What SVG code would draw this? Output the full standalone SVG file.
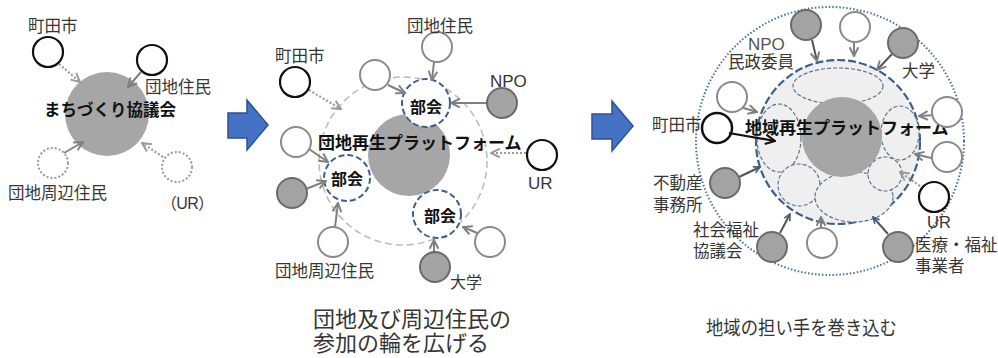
<svg xmlns="http://www.w3.org/2000/svg" width="998" height="358" viewBox="0 0 998 358">
<style>
text{font-family:"Liberation Sans","Noto Sans CJK JP",sans-serif;fill:#353535;font-size:16.5px}
.b{font-weight:bold;fill:#111}
.wc{fill:#fff;stroke:#8a8a8a;stroke-width:2}
.kc{fill:#fff;stroke:#111;stroke-width:2.2}
.gc{fill:#a3a3a3;stroke:#6a6a6a;stroke-width:2}
.dc{fill:#fff;stroke:#9a9a9a;stroke-width:2;stroke-dasharray:2 2}
.big{fill:#a6a6a6}
.bu{fill:#fff;stroke:#3d5f8a;stroke-width:2;stroke-dasharray:6 3}
.el{fill:#efefef;stroke:#5f7593;stroke-width:1.2;stroke-dasharray:4 2}
.ga{fill:none;stroke:#808080;stroke-width:2;marker-end:url(#ag)}
.da{fill:none;stroke:#9a9a9a;stroke-width:2.2;stroke-dasharray:2 2;marker-end:url(#ad)}
.ka{fill:none;stroke:#111;stroke-width:2.2;marker-end:url(#ak)}
.sa{fill:none;stroke:#555;stroke-width:2;marker-end:url(#as)}
.blk{fill:#4472c4;stroke:#2f528f;stroke-width:1.5}
</style>
<defs>
<marker id="ag" viewBox="0 0 10 10" refX="9" refY="5" markerWidth="11" markerHeight="11" markerUnits="userSpaceOnUse" orient="auto"><path d="M1,1 L9,5 L1,9" fill="none" stroke="#808080" stroke-width="1.8"/></marker>
<marker id="ad" viewBox="0 0 10 10" refX="9" refY="5" markerWidth="11" markerHeight="11" markerUnits="userSpaceOnUse" orient="auto"><path d="M1,1 L9,5 L1,9" fill="none" stroke="#9a9a9a" stroke-width="1.8"/></marker>
<marker id="ak" viewBox="0 0 10 10" refX="9" refY="5" markerWidth="12" markerHeight="12" markerUnits="userSpaceOnUse" orient="auto"><path d="M1,1 L9,5 L1,9" fill="none" stroke="#111" stroke-width="1.8"/></marker>
<marker id="as" viewBox="0 0 10 10" refX="9" refY="5" markerWidth="8" markerHeight="8" markerUnits="userSpaceOnUse" orient="auto"><path d="M1,1 L9,5 L1,9" fill="none" stroke="#3d5f8a" stroke-width="2"/></marker>
</defs>
<rect width="998" height="358" fill="#fff"/>

<!-- big background shapes -->
<g id="machizukuri"><circle class="big" cx="107" cy="114" r="42"/></g>
<g id="platform-mid">
<circle cx="403" cy="161" r="84" fill="none" stroke="#bdbdbd" stroke-width="1.6" stroke-dasharray="7 4"/>
<circle class="big" cx="409" cy="155" r="41"/>
</g>
<g id="platform-right">
<circle cx="830" cy="141" r="134" fill="none" stroke="#4a6fa0" stroke-width="2" stroke-dasharray="1.5 2"/>
<circle cx="838" cy="142" r="82" fill="#efefef" stroke="#3d5f8a" stroke-width="2.2" stroke-dasharray="8 3"/>
<ellipse class="el" cx="838" cy="86" rx="45" ry="18"/>
<ellipse class="el" cx="779" cy="138" rx="22" ry="34"/>
<ellipse class="el" cx="900" cy="133" rx="19" ry="27"/>
<circle class="el" cx="799" cy="185" r="21"/>
<ellipse class="el" cx="854" cy="197" rx="39" ry="25"/>
<circle class="el" cx="885" cy="174" r="17"/>
<circle class="big" cx="842" cy="137" r="40"/>
</g>
<g id="bukai-top"><circle class="bu" cx="426" cy="103" r="24"/></g>
<g id="bukai-left"><circle class="bu" cx="347" cy="178" r="23"/></g>
<g id="bukai-bottom"><circle class="bu" cx="437" cy="214" r="24"/></g>

<!-- connectors -->
<g id="connectors">
<line class="da" x1="59" y1="64" x2="80" y2="82"/>
<line class="ga" x1="141" y1="72" x2="128" y2="87"/>
<line class="ga" x1="64" y1="153" x2="83" y2="142"/>
<line class="da" x1="163" y1="157" x2="142" y2="143"/>

<line class="ga" x1="434" y1="62" x2="432" y2="80"/>
<line class="da" x1="309" y1="90" x2="341" y2="109"/>
<line class="ga" x1="388" y1="85" x2="405" y2="93"/>
<line class="ga" x1="487" y1="103" x2="451" y2="103"/>
<line class="ga" x1="309" y1="149" x2="328" y2="162"/>
<line class="ga" x1="306" y1="189" x2="326" y2="181"/>
<line class="ga" x1="335" y1="227" x2="338" y2="203"/>
<line class="ga" x1="434" y1="252" x2="434" y2="240"/>
<line class="ga" x1="482" y1="235" x2="463" y2="227"/>
<line class="da" x1="526" y1="153" x2="491" y2="153"/>

<line class="ga" x1="812" y1="40" x2="817" y2="61" style="stroke:#555"/>
<line class="ga" x1="854" y1="35" x2="854" y2="56"/>
<line class="ga" x1="892" y1="54" x2="877" y2="70" style="stroke:#555"/>
<line class="ga" x1="740" y1="107" x2="757" y2="112"/>
<line class="ka" x1="729" y1="133" x2="775" y2="141"/>
<line class="ga" x1="936" y1="115" x2="919" y2="116"/>
<line class="ga" x1="935" y1="159" x2="915" y2="154"/>
<line class="da" x1="920" y1="186" x2="900" y2="172"/>
<line class="sa" x1="739" y1="177" x2="760" y2="167" style="stroke:#555"/>
<line class="sa" x1="780" y1="233" x2="790" y2="214" style="stroke:#555"/>
<line class="ga" x1="821" y1="234" x2="821" y2="217"/>
<line class="sa" x1="888" y1="234" x2="873" y2="217" style="stroke:#555"/>
</g>

<!-- block arrows -->
<g id="arrow1"><path class="blk" d="M228,113 H247 V100 L268,125 L247,150 V138 H228 Z"/></g>
<g id="arrow2"><path class="blk" d="M592,114 H612 V101 L633,126 L612,151 V139 H592 Z"/></g>

<!-- left panel nodes -->
<g id="l-machida"><circle class="kc" cx="48" cy="52" r="15"/><text x="28" y="32">町田市</text></g>
<g id="l-danchi"><circle class="kc" cx="152" cy="60" r="15"/><text x="145" y="93">団地住民</text></g>
<g id="l-shuhen"><circle class="dc" cx="53" cy="163" r="15"/><text x="8" y="199">団地周辺住民</text></g>
<g id="l-ur"><circle class="dc" cx="177" cy="167" r="15"/><text x="161" y="209" style="font-size:16px" textLength="53">（UR）</text></g>
<g id="l-label"><text class="b" x="110" y="116" text-anchor="middle">まちづくり協議会</text></g>

<!-- middle panel nodes -->
<g id="m-danchi"><circle class="wc" cx="437" cy="47" r="15"/><text x="407" y="32">団地住民</text></g>
<g id="m-machida"><circle class="kc" cx="295" cy="82" r="15"/><text x="275" y="62">町田市</text></g>
<g id="m-w1"><circle class="wc" cx="375" cy="75" r="15"/></g>
<g id="m-npo"><circle class="gc" cx="502" cy="103" r="15"/><text x="490" y="87" style="font-size:17px">NPO</text></g>
<g id="m-w2"><circle class="wc" cx="296" cy="142" r="15"/></g>
<g id="m-g1"><circle class="gc" cx="292" cy="193" r="15"/></g>
<g id="m-shuhen"><circle class="wc" cx="333" cy="242" r="15"/><text x="275" y="277">団地周辺住民</text></g>
<g id="m-daigaku"><circle class="gc" cx="435" cy="267" r="15"/><text x="450" y="288" style="font-size:16px">大学</text></g>
<g id="m-w3"><circle class="wc" cx="490" cy="242" r="15"/></g>
<g id="m-ur"><circle class="kc" cx="542" cy="155" r="15"/><text x="528" y="189" style="font-size:17px">UR</text></g>
<g id="m-labels">
<text class="b" x="426" y="113" text-anchor="middle" style="font-size:16px">部会</text>
<text class="b" x="347" y="185" text-anchor="middle" style="font-size:16px">部会</text>
<text class="b" x="440" y="222" text-anchor="middle" style="font-size:16px">部会</text>
<text class="b" x="318" y="149" style="font-size:17px">団地再生プラットフォーム</text>
</g>

<!-- right panel nodes -->
<g id="r-npo"><circle class="gc" cx="806" cy="25" r="15"/><text x="748" y="50" style="font-size:17px;fill:#555">NPO</text><text x="728" y="68">民政委員</text></g>
<g id="r-w1"><circle class="wc" cx="855" cy="27" r="15"/></g>
<g id="r-daigaku"><circle class="gc" cx="903" cy="43" r="15"/><text x="902" y="77">大学</text></g>
<g id="r-w2"><circle class="wc" cx="732" cy="97" r="15"/></g>
<g id="r-label"><text class="b" x="745" y="134" style="font-size:17px">地域再生プラットフォーム</text></g>
<g id="r-machida"><circle cx="717" cy="128" r="15" fill="none" stroke="#111" stroke-width="2.5"/><text x="652" y="131">町田市</text></g>
<g id="r-w3"><circle class="wc" cx="947" cy="112" r="15"/></g>
<g id="r-w4"><circle class="wc" cx="947" cy="157" r="15"/></g>
<g id="r-ur"><circle class="kc" cx="934" cy="197" r="15"/><text x="927" y="228">UR</text></g>
<g id="r-iryo"><circle class="gc" cx="898" cy="247" r="15"/><text x="915" y="251">医療・福祉</text><text x="915" y="272">事業者</text></g>
<g id="r-w5"><circle class="wc" cx="822" cy="243" r="15"/></g>
<g id="r-shakyo"><circle class="gc" cx="772" cy="247" r="15"/><text x="693" y="236">社会福祉</text><text x="693" y="257">協議会</text></g>
<g id="r-fudosan"><circle class="gc" cx="725" cy="183" r="15"/><text x="653" y="189">不動産</text><text x="653" y="211">事務所</text></g>

<!-- captions -->
<g id="captions">
<text x="313" y="327" style="font-size:22px">団地及び周辺住民の</text>
<text x="313" y="351" style="font-size:22px">参加の輪を広げる</text>
<text x="706" y="335" style="font-size:19px" textLength="191" lengthAdjust="spacingAndGlyphs">地域の担い手を巻き込む</text>
</g>
</svg>
